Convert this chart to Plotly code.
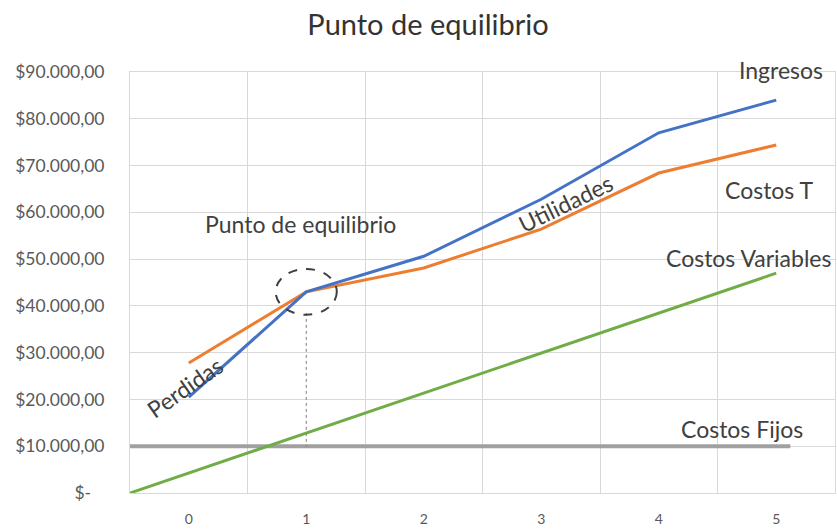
import plotly.graph_objects as go

# Break-even chart data
unidades = [0, 1, 2, 3, 4, 5]
ingresos = [20500, 43000, 50600, 62800, 77000, 84000]
costos_totales = [27800, 43000, 48100, 56400, 68400, 74400]

# Variable costs start from zero at the left edge of the axis
cv_x = [-0.5, 5]
costos_variables = [0, 47000]

# Fixed costs line
cf_x = [-0.5, 5.12]
costos_fijos = [10000, 10000]

y_ticks = [0, 10000, 20000, 30000, 40000, 50000, 60000, 70000, 80000, 90000]


def formato_pesos(v):
    if v == 0:
        return "$-\u00a0\u00a0\u00a0"
    return "$" + "{:,.0f}".format(v).replace(",", ".") + ",00"


y_labels = [formato_pesos(v) for v in y_ticks]

equilibrio_x = 1
equilibrio_y = 43000

FONT = "Lato"
TXT = "#404040"

fig = go.Figure()

fig.add_trace(go.Scatter(x=cf_x, y=costos_fijos, mode="lines",
                         line=dict(color="#a0a0a0", width=4), name="Costos Fijos"))
fig.add_trace(go.Scatter(x=cv_x, y=costos_variables, mode="lines",
                         line=dict(color="#70AD47", width=3), name="Costos Variables"))
fig.add_trace(go.Scatter(x=unidades, y=costos_totales, mode="lines",
                         line=dict(color="#ED7D31", width=3), name="Costos T"))
fig.add_trace(go.Scatter(x=unidades, y=ingresos, mode="lines",
                         line=dict(color="#4472C4", width=3), name="Ingresos"))

# Dotted drop line from the break-even point to the fixed costs
fig.add_shape(type="line", x0=equilibrio_x, x1=equilibrio_x, y0=38500, y1=10000,
              line=dict(color="#7f7f7f", width=1, dash="dot"))
# Dashed circle around the break-even point
fig.add_shape(type="circle", x0=equilibrio_x - 0.26, x1=equilibrio_x + 0.26,
              y0=equilibrio_y - 4900, y1=equilibrio_y + 4900,
              line=dict(color="#404040", width=2, dash="dash"))

labels = [
    ("Costos T", 4.94, 64700, 0),
    ("Costos Variables", 4.76, 50200, 0),
    ("Costos Fijos", 4.71, 13700, 0),
    ("Punto de equilibrio", 0.95, 57500, 0),
    ("Utilidades", 3.21, 62000, -26),
    ("Perdidas", -0.03, 22600, -35),
]
for txt, x, y, ang in labels:
    fig.add_annotation(x=x, y=y, text=txt, showarrow=False, textangle=ang,
                       font=dict(family=FONT, size=23, color=TXT))

# Series name above the top of the plot area
fig.add_annotation(x=5.04, y=1.005, yref="paper", yanchor="middle", xanchor="center",
                   text="Ingresos", showarrow=False,
                   font=dict(family=FONT, size=23, color=TXT))

fig.update_layout(
    width=837, height=529,
    margin=dict(l=130, r=2, t=72, b=36),
    paper_bgcolor="white", plot_bgcolor="white",
    showlegend=False,
    title=dict(text="Punto de equilibrio", x=428 / 837, xanchor="center",
               y=1 - 25 / 529, yanchor="middle",
               font=dict(family=FONT, size=29, color="#333333")),
    xaxis=dict(range=[-0.5, 5.5], tickvals=unidades, ticktext=[str(u) for u in unidades],
               showgrid=False, zeroline=False, ticks="", ticklen=0,
               ticklabelstandoff=13,
               showline=True, mirror=True, linecolor="#d9d9d9", linewidth=1,
               minor=dict(tickvals=[0.5, 1.5, 2.5, 3.5, 4.5], showgrid=True,
                          gridcolor="#d9d9d9", gridwidth=1, ticks=""),
               tickfont=dict(family=FONT, size=14, color="#595959")),
    yaxis=dict(range=[0, 90000], tickvals=y_ticks, ticktext=y_labels,
               showgrid=True, gridcolor="#d9d9d9", gridwidth=1, zeroline=False,
               showline=True, mirror=True, linecolor="#d9d9d9", linewidth=1,
               ticks="", ticklen=0, ticklabelstandoff=21,
               tickfont=dict(family=FONT, size=17.5, color="#595959")),
)

fig.write_html("out.html")
